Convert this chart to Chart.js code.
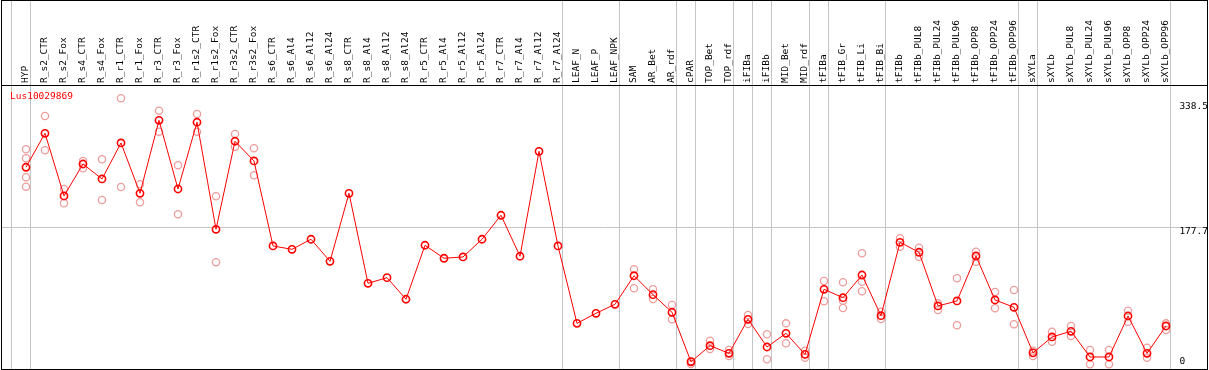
<!DOCTYPE html>
<html>
<head>
<meta charset="utf-8">
<script src="https://cdn.jsdelivr.net/npm/chart.js@4"></script>
<style>
  html, body { margin: 0; padding: 0; background: #fff; }
  #wrap { position: absolute; left: 1px; top: 0; width: 1207px; height: 370px;
          box-sizing: border-box; border: 1px solid #000; overflow: hidden; }
  #geneChart { position: absolute; left: -6px; top: 0; display: block; }
</style>
</head>
<body>
<div id="wrap"><canvas id="geneChart" width="1217" height="374"></canvas></div>
<script>
// sample names, left to right
const categories = [
  'HYP', 'R_s2_CTR', 'R_s2_Fox', 'R_s4_CTR', 'R_s4_Fox', 'R_r1_CTR', 'R_r1_Fox',
  'R_r3_CTR', 'R_r3_Fox', 'R_r1s2_CTR', 'R_r1s2_Fox', 'R_r3s2_CTR', 'R_r3s2_Fox',
  'R_s6_CTR', 'R_s6_Al4', 'R_s6_Al12', 'R_s6_Al24', 'R_s8_CTR', 'R_s8_Al4', 'R_s8_Al12',
  'R_s8_Al24', 'R_r5_CTR', 'R_r5_Al4', 'R_r5_Al12', 'R_r5_Al24', 'R_r7_CTR', 'R_r7_Al4',
  'R_r7_Al12', 'R_r7_Al24', 'LEAF_N', 'LEAF_P', 'LEAF_NPK', 'SAM', 'AR_Bet', 'AR_rdf',
  'cPAR', 'TOP_Bet', 'TOP_rdf', 'iFIBa', 'iFIBb', 'MID_Bet', 'MID_rdf', 'tFIBa',
  'tFIB_Gr', 'tFIB_Li', 'tFIB_Bi', 'tFIBb', 'tFIBb_PUL8', 'tFIBb_PUL24', 'tFIBb_PUL96',
  'tFIBb_OPP8', 'tFIBb_OPP24', 'tFIBb_OPP96', 'sXYLa', 'sXYLb', 'sXYLb_PUL8',
  'sXYLb_PUL24', 'sXYLb_PUL96', 'sXYLb_OPP8', 'sXYLb_OPP24', 'sXYLb_OPP96'
];

// mean expression per sample (red line)
const meanValues = [
  255.2, 298.8, 218.4, 259.4, 240.2, 286.4, 221.8, 315.5, 227.3, 313.0, 175.6, 288.6, 263.3,
  154.2, 149.9, 162.8, 134.5, 221.8, 106.3, 113.5, 85.8, 155.1, 138.4, 140.1, 162.8,
  193.6, 141.0, 275.7, 154.2, 54.9, 67.8, 79.3, 116.0, 91.7, 69.1, 5.5, 26.2, 16.4,
  60.1, 24.5, 42.1, 15.1, 98.6, 87.8, 116.9, 64.7, 158.9, 146.1, 77.2, 83.6, 141.3,
  84.9, 75.5, 17.0, 37.4, 44.7, 11.7, 11.7, 64.3, 16.4, 51.5
];

// individual replicates per sample (pale circles)
const replicateValues = [
  [278.3, 266.8, 242.4, 230.3], [321.1, 277.0], [227.3, 209.0], [263.3, 253.9],
  [265.5, 213.2], [343.8, 229.9], [233.4, 210.3], [327.9, 300.9], [257.8, 194.9],
  [323.6, 300.9], [218.0, 133.2], [297.9, 281.6], [279.6, 244.9],
  [], [], [], [], [], [], [], [], [], [], [], [], [], [], [], [],
  [], [], [],
  [124.3, 99.9], [98.6, 86.1], [78.4, 60.1], [6.5, 2.7], [32.6, 22.0], [20.7, 13.0],
  [65.6, 54.0], [40.8, 8.7], [54.9, 29.3], [19.8, 10.8], [109.2, 83.2],
  [107.6, 84.0, 74.6], [144.8, 108.3, 96.0], [69.8, 60.5], [164.1, 153.3],
  [152.0, 140.4], [80.6, 72.0], [112.7, 52.4], [146.9, 134.0], [95.1, 74.2],
  [97.7, 53.7], [19.8, 13.0], [44.2, 31.3], [51.5, 38.6], [20.7, 2.3], [20.7, 2.3],
  [71.1, 57.0], [23.6, 10.8], [54.9, 46.3]
];

// index of the last sample in each group (-1 = left edge)
const groupEnds = [-1, 0, 28, 31, 34, 35, 37, 38, 39, 41, 42, 45, 52, 53, 60];

const yTicks = [0, 177.7, 338.5];
const geneName = 'Lus10029869';

const xMin = -24 / 19, xMax = 1181 / 19;

const meanPoints = meanValues.map((v, i) => ({ x: i, y: v }));
const repPoints = [];
replicateValues.forEach((reps, i) => reps.forEach(v => repPoints.push({ x: i, y: v })));

// gene name written in the top-left corner of the plot
const geneLabel = {
  id: 'geneLabel',
  afterDraw(chart) {
    const { ctx, chartArea } = chart;
    ctx.save();
    ctx.font = '9.5px "DejaVu Sans Mono"';
    ctx.fillStyle = '#ff0000';
    ctx.textAlign = 'left';
    ctx.textBaseline = 'middle';
    ctx.fillText(geneName, chartArea.left + 8, chartArea.top + 12);
    ctx.restore();
  }
};

new Chart(document.getElementById('geneChart'), {
  type: 'line',
  data: {
    datasets: [
      {
        label: geneName, data: meanPoints, order: 0,
        borderColor: '#ff0000', borderWidth: 1, tension: 0,
        pointRadius: 3.6, pointHoverRadius: 3.6, pointBorderWidth: 1.6,
        pointBorderColor: '#ff0000', pointBackgroundColor: 'rgba(0,0,0,0)'
      },
      {
        label: 'replicates', data: repPoints, order: 1, showLine: false,
        pointRadius: 3.6, pointHoverRadius: 3.6, pointBorderWidth: 1.3,
        pointBorderColor: '#ee9c9c', pointBackgroundColor: 'rgba(0,0,0,0)'
      }
    ]
  },
  plugins: [geneLabel],
  options: {
    responsive: false,
    animation: false,
    devicePixelRatio: 1,
    layout: { padding: { left: 6, right: 6, bottom: 6, top: 0 } },
    plugins: {
      tooltip: { enabled: false },
      legend: { display: false }
    },
    scales: {
      // group separators running through header and plot
      xs: {
        type: 'linear', position: 'top', weight: 0, min: xMin, max: xMax,
        afterBuildTicks: s => { s.ticks = groupEnds.map(i => ({ value: i + 4.5 / 19 })); },
        afterFit: s => { s.height = 0; s.paddingLeft = 0; s.paddingRight = 0; },
        grid: { color: '#c4c4c4', lineWidth: 1, tickLength: 85, drawTicks: true },
        border: { display: false },
        ticks: { display: false }
      },
      x: {
        type: 'linear', position: 'top', weight: 1, min: xMin, max: xMax,
        afterBuildTicks: s => { s.ticks = categories.map((c, i) => ({ value: i })); },
        afterFit: s => { s.height = 84; s.paddingLeft = 0; s.paddingRight = 0; },
        grid: { display: true, drawOnChartArea: false, drawTicks: false, color: 'rgba(0,0,0,0)' },
        border: { display: true, color: '#000', width: 1 },
        ticks: {
          autoSkip: false, minRotation: 90, maxRotation: 90, padding: 2,
          color: '#000', font: { family: 'DejaVu Sans Mono', size: 9.5, lineHeight: 0 },
          callback: v => categories[v]
        }
      },
      y: {
        type: 'linear', position: 'right', min: -3.72, max: 360.8,
        afterBuildTicks: s => { s.ticks = yTicks.map(v => ({ value: v })); },
        afterFit: s => { s.width = 0; s.paddingTop = 0; s.paddingBottom = 0; },
        grid: {
          drawTicks: false, lineWidth: 1,
          color: c => (c.tick && c.tick.value === 177.7) ? '#c4c4c4' : 'rgba(0,0,0,0)'
        },
        border: { display: false },
        ticks: {
          mirror: true, padding: 1, crossAlign: 'far', color: '#000',
          font: { family: 'DejaVu Sans Mono', size: 9.5, lineHeight: '8.6px' },
          callback: v => v === 0 ? [String(v), ''] : ['', String(v)]
        }
      }
    }
  }
});
</script>
</body>
</html>
